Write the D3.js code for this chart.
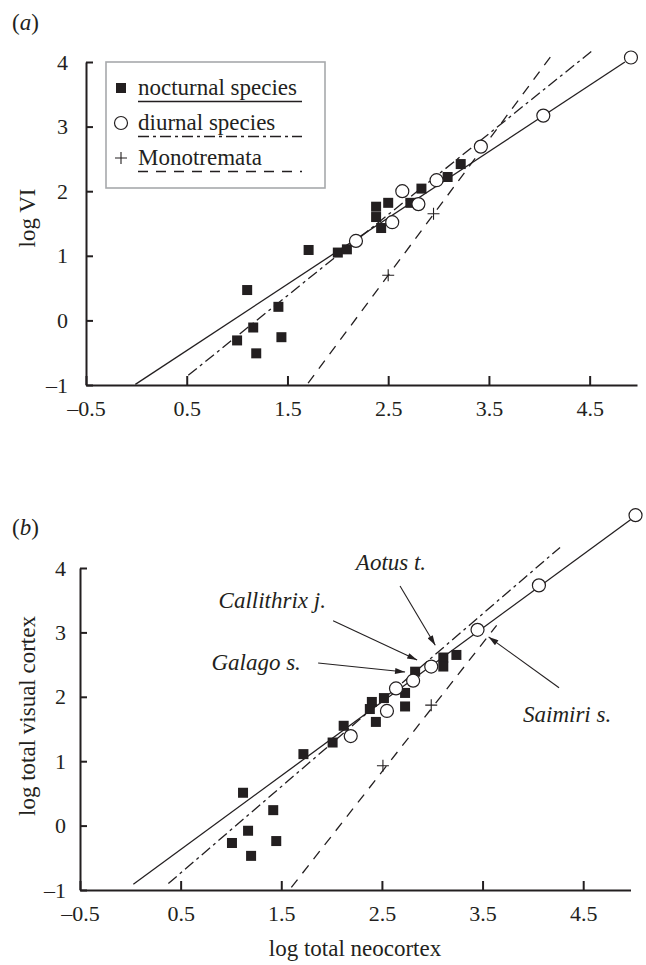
<!DOCTYPE html>
<html lang="en">
<head>
<meta charset="UTF-8">
<title>log VI and log total visual cortex</title>
<script src="https://d3js.org/d3.v7.min.js"></script>
<style>
    body { margin: 0; background: #fff; }
    text { font-family: "Liberation Serif", "Times New Roman", serif; fill: #231f20; }
</style>
</head>
<body>
<script>

    var xTicks = [-0.5, 0.5, 1.5, 2.5, 3.5, 4.5];
    var yTicks = [-1, 0, 1, 2, 3, 4];
    var legendLabels = ['nocturnal species', 'diurnal species', 'Monotremata'];

    // panel (a): log VI against log neocortex
    var nocturnalA = [[1.10, 0.47], [1.41, 0.21], [1.16, -0.11], [1.00, -0.31], [1.19, -0.51], [1.44, -0.26],
        [1.71, 1.09], [2.00, 1.05], [2.09, 1.10], [2.38, 1.76], [2.38, 1.60], [2.43, 1.43], [2.50, 1.82],
        [2.72, 1.82], [2.83, 2.04], [3.09, 2.22], [3.22, 2.42]];
    var diurnalA = [[2.18, 1.23], [2.54, 1.52], [2.64, 2.00], [2.80, 1.80], [2.98, 2.17], [3.42, 2.69],
        [4.04, 3.17], [4.91, 4.07]];
    var monotremataA = [[2.50, 0.70], [2.95, 1.65]];
    var nocturnalFitA = [[-0.01, -0.99], [4.85, 4.00]];
    var diurnalFitA = [[0.515, -0.85], [4.53, 4.18]];
    var monotremataFitA = [[1.705, -0.97], [4.15, 4.16]];

    // panel (b): log total visual cortex against log total neocortex
    var nocturnalB = [[1.12, 0.51], [1.42, 0.24], [1.17, -0.08], [1.01, -0.27], [1.45, -0.24], [1.20, -0.47],
        [1.72, 1.11], [2.01, 1.29], [2.12, 1.55], [2.40, 1.92], [2.38, 1.81], [2.44, 1.61], [2.52, 1.98],
        [2.73, 2.06], [2.73, 1.85], [2.83, 2.39], [3.11, 2.61], [3.11, 2.47], [3.24, 2.65]];
    var diurnalB = [[2.19, 1.39], [2.55, 1.78], [2.64, 2.13], [2.81, 2.25], [2.99, 2.47], [3.45, 3.04],
        [4.06, 3.73], [5.02, 4.82]];
    var monotremataB = [[2.51, 0.93], [2.99, 1.87]];
    var nocturnalFitB = [[0.03, -0.91], [4.97, 4.75]];
    var diurnalFitB = [[0.378, -0.90], [4.27, 4.32]];
    var monotremataFitB = [[1.60, -0.96], [3.64, 3.11]];

    var speciesB = ['Aotus t.', 'Callithrix j.', 'Galago s.', 'Saimiri s.'];
    var labelAtB = [[2.59, 3.97], [1.41, 3.38], [1.25, 2.42], [4.34, 1.61]];
    var arrowFromB = [[2.68, 3.72], [2.015, 3.18], [1.866, 2.525], [4.26, 2.14]];
    var arrowToB = [[3.03, 2.80], [2.85, 2.57], [2.73, 2.385], [3.56, 2.93]];

    var ink = '#231f20';
    var dashes = [null, '11,4,3,4', '10,8'];

    var svg = d3.select('body').append('svg')
        .attr('width', 646)
        .attr('height', 965);

    svg.append('defs').append('marker')
        .attr('id', 'arrow')
        .attr('viewBox', '0 0 10 6')
        .attr('refX', 10)
        .attr('refY', 3)
        .attr('markerWidth', 12)
        .attr('markerHeight', 6)
        .attr('markerUnits', 'userSpaceOnUse')
        .attr('orient', 'auto')
        .append('path')
        .attr('d', 'M0,0L10,3L0,6Z')
        .attr('fill', ink);

    function fmt(d) {
        return d < 0 ? '\u2013' + Math.abs(d) : String(d);
    }

    function square(g, cx, cy) {
        g.append('rect').attr('x', cx - 5).attr('y', cy - 5)
            .attr('width', 10).attr('height', 10).attr('fill', ink);
    }
    function circle(g, cx, cy) {
        g.append('circle').attr('cx', cx).attr('cy', cy).attr('r', 6.5)
            .attr('fill', '#fff').attr('stroke', ink).attr('stroke-width', 1.2);
    }
    function plus(g, cx, cy) {
        g.append('path').attr('d', 'M' + (cx - 6) + ',' + cy + 'H' + (cx + 6) + 'M' + cx + ',' + (cy - 6) + 'V' + (cy + 6))
            .attr('stroke', ink).attr('stroke-width', 1.1).attr('fill', 'none');
    }

    function draw_panel(p) {
        var x = d3.scaleLinear().domain([-0.5, 4.97]).range([p.left, p.right]);
        var y = d3.scaleLinear().domain([-1, 4]).range([p.bottom, p.top]);
        var g = svg.append('g');

        var gx = g.append('g')
            .attr('transform', 'translate(0,' + p.bottom + ')')
            .call(d3.axisBottom(x).tickValues(xTicks).tickFormat(fmt)
                .tickSize(-9).tickSizeOuter(0).tickPadding(p.xPad));
        var gy = g.append('g')
            .attr('transform', 'translate(' + p.left + ',0)')
            .call(d3.axisLeft(y).tickValues(yTicks).tickFormat(fmt)
                .tickSize(-7).tickSizeOuter(0).tickPadding(p.yPad));
        [gx, gy].forEach(function (a) {
            a.attr('font-family', null).attr('font-size', 22).attr('color', ink);
            a.select('.domain').attr('stroke-width', 2);
            a.selectAll('.tick line').attr('stroke-width', 2);
        });

        // regression lines
        p.fits.forEach(function (f, i) {
            g.append('line')
                .attr('x1', x(f[0][0])).attr('y1', y(f[0][1]))
                .attr('x2', x(f[1][0])).attr('y2', y(f[1][1]))
                .attr('stroke', ink).attr('stroke-width', 1.3)
                .attr('stroke-dasharray', dashes[i]);
        });

        p.nocturnal.forEach(function (d) { square(g, x(d[0]), y(d[1])); });
        p.diurnal.forEach(function (d) { circle(g, x(d[0]), y(d[1])); });
        p.monotremata.forEach(function (d) { plus(g, x(d[0]), y(d[1])); });

        g.append('text').attr('x', 12).attr('y', p.tagY).attr('font-size', 23)
            .html('(<tspan font-style="italic">' + p.tag + '</tspan>)');

        g.append('text')
            .attr('transform', 'translate(35,' + p.titleY + ') rotate(-90)')
            .attr('text-anchor', 'middle').attr('font-size', 23)
            .text(p.yTitle);

        return {x: x, y: y, g: g};
    }

    var a = draw_panel({
        left: 86, right: 637, top: 62, bottom: 385, xPad: 15, yPad: 18,
        tag: 'a', tagY: 30, yTitle: 'log VI', titleY: 218,
        nocturnal: nocturnalA, diurnal: diurnalA, monotremata: monotremataA,
        fits: [nocturnalFitA, diurnalFitA, monotremataFitA]
    });

    var b = draw_panel({
        left: 80, right: 630.5, top: 568, bottom: 890, xPad: 15, yPad: 14,
        tag: 'b', tagY: 535, yTitle: 'log total visual cortex', titleY: 716,
        nocturnal: nocturnalB, diurnal: diurnalB, monotremata: monotremataB,
        fits: [nocturnalFitB, diurnalFitB, monotremataFitB]
    });

    b.g.append('text').attr('x', 355).attr('y', 956).attr('text-anchor', 'middle')
        .attr('font-size', 23).text('log total neocortex');

    // legend of panel (a)
    var lg = a.g.append('g');
    lg.append('rect').attr('x', 106).attr('y', 62).attr('width', 219).attr('height', 126)
        .attr('fill', '#fff').attr('stroke', '#a7a9ac').attr('stroke-width', 1.6);
    legendLabels.forEach(function (label, i) {
        var cy = 88 + i * 35;
        if (i == 0) square(lg, 121, cy);
        if (i == 1) circle(lg, 121, cy);
        if (i == 2) plus(lg, 121, cy);
        lg.append('text').attr('x', 138).attr('y', cy + 7).attr('font-size', 23).text(label);
        lg.append('line').attr('x1', 138).attr('x2', 302)
            .attr('y1', cy + 13.5).attr('y2', cy + 13.5)
            .attr('stroke', ink).attr('stroke-width', 1.3)
            .attr('stroke-dasharray', dashes[i]);
    });

    // species labels of panel (b)
    speciesB.forEach(function (name, i) {
        b.g.append('text')
            .attr('x', b.x(labelAtB[i][0])).attr('y', b.y(labelAtB[i][1]))
            .attr('text-anchor', 'middle').attr('font-size', 23).attr('font-style', 'italic')
            .text(name);
        b.g.append('line')
            .attr('x1', b.x(arrowFromB[i][0])).attr('y1', b.y(arrowFromB[i][1]))
            .attr('x2', b.x(arrowToB[i][0])).attr('y2', b.y(arrowToB[i][1]))
            .attr('stroke', ink).attr('stroke-width', 1.1)
            .attr('marker-end', 'url(#arrow)');
    });

</script>
</body>
</html>
